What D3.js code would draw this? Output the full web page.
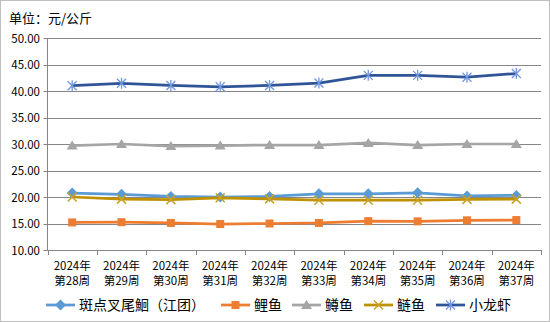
<!DOCTYPE html>
<html><head><meta charset="utf-8">
<script src="https://cdn.jsdelivr.net/npm/d3@7/dist/d3.min.js"></script>
<style>body{margin:0;background:#fff}svg{display:block}text{font-family:"Noto Sans CJK SC","DejaVu Sans",sans-serif}</style>
</head><body><svg id="c" width="550" height="322"></svg>
<script>
const categories = ["2024年\n第28周","2024年\n第29周","2024年\n第30周","2024年\n第31周","2024年\n第32周","2024年\n第33周","2024年\n第34周","2024年\n第35周","2024年\n第36周","2024年\n第37周"];
const seriesNames = ["斑点叉尾鮰（江团）","鲤鱼","鳟鱼","鲢鱼","小龙虾"];
const catfish = [20.75,20.5,20.1,20.0,20.1,20.6,20.6,20.8,20.2,20.3];
const carp = [15.2,15.25,15.1,14.9,15.0,15.1,15.45,15.4,15.6,15.65];
const trout = [29.7,30.0,29.6,29.7,29.8,29.8,30.2,29.8,30.0,30.0];
const silverCarp = [20.0,19.6,19.5,19.85,19.65,19.4,19.4,19.4,19.55,19.6];
const crayfish = [41.0,41.45,41.05,40.8,41.05,41.5,42.95,42.95,42.6,43.3];
const yTicks = [10,15,20,25,30,35,40,45,50];
const colors = ["#5B9BD5","#ED7D31","#A5A5A5","#BF9000","#2F5597"];
const markerColors = ["#5B9BD5","#ED7D31","#A5A5A5","#C9A227","#6F97E0"];
const markers = ["diamond","square","triangle","x","star"];
const allData = [catfish,carp,trout,silverCarp,crayfish];

const svg = d3.select("#c");
svg.append("rect").attr("x",0.5).attr("y",0.5).attr("width",549).attr("height",321).attr("fill","#fff").attr("stroke","#BFBFBF");
const L=47.5,R=541,T=38,B=250;
const x = d3.scaleBand().domain(d3.range(categories.length)).range([L,R]);
const y = d3.scaleLinear().domain([10,50]).range([B,T]);

svg.append("text").attr("x",9).attr("y",23).attr("font-size",13).attr("fill","#000").text("单位：元/公斤");

// grid
svg.append("g").selectAll("line").data(yTicks).join("line")
 .attr("x1",L-4).attr("x2",R).attr("y1",d=>Math.round(y(d))+0.5).attr("y2",d=>Math.round(y(d))+0.5)
 .attr("stroke","#868686").attr("stroke-width",1);
svg.append("g").selectAll("text").data(yTicks).join("text")
 .attr("x",40).attr("y",d=>y(d)+4.5).attr("text-anchor","end").attr("font-size",11.5).attr("fill","#000")
 .text(d=>d.toFixed(2));
// axes
svg.append("line").attr("x1",L).attr("x2",L).attr("y1",T).attr("y2",B).attr("stroke","#868686");
const bounds = d3.range(categories.length+1).map(i=>L+i*x.bandwidth());
svg.append("g").selectAll("line").data(bounds).join("line")
 .attr("x1",d=>Math.round(d)+0.5).attr("x2",d=>Math.round(d)+0.5).attr("y1",B).attr("y2",B+5).attr("stroke","#868686");
const xg = svg.append("g");
categories.forEach((d,i)=>{
  d.split("\n").forEach((p,j)=>xg.append("text").attr("text-anchor","middle").attr("font-size",11.5).attr("fill","#000")
    .attr("x",x(i)+x.bandwidth()/2).attr("y",270+j*15).text(p));
});

function drawMarker(g,type,cx,cy,col){
  if(type==="diamond") g.append("path").attr("d",`M${cx},${cy-5.5}L${cx+5.5},${cy}L${cx},${cy+5.5}L${cx-5.5},${cy}Z`).attr("fill",col);
  else if(type==="square") g.append("rect").attr("x",cx-4).attr("y",cy-4).attr("width",8).attr("height",8).attr("fill",col);
  else if(type==="triangle") g.append("path").attr("d",`M${cx},${cy-5}L${cx+5.5},${cy+4}L${cx-5.5},${cy+4}Z`).attr("fill",col);
  else if(type==="x") g.append("path").attr("d",`M${cx-4.5},${cy-4.5}L${cx+4.5},${cy+4.5}M${cx-4.5},${cy+4.5}L${cx+4.5},${cy-4.5}`).attr("stroke",col).attr("stroke-width",1.5);
  else g.append("path").attr("d",`M${cx-4.5},${cy-4.5}L${cx+4.5},${cy+4.5}M${cx-4.5},${cy+4.5}L${cx+4.5},${cy-4.5}M${cx},${cy-5.5}L${cx},${cy+5.5}`).attr("stroke",col).attr("stroke-width",1.3);
}
const line = d3.line().x((d,i)=>x(i)+x.bandwidth()/2).y(d=>y(d));
allData.forEach((data,k)=>{
  const g=svg.append("g");
  g.append("path").datum(data).attr("d",line).attr("fill","none").attr("stroke",colors[k]).attr("stroke-width",2.75).attr("stroke-linejoin","round");
  data.forEach((v,i)=>drawMarker(g,markers[k],x(i)+x.bandwidth()/2,y(v),markerColors[k]));
});
// legend
const legX=[46,221,292,364,436];
seriesNames.forEach((n,k)=>{
  const g=svg.append("g"); const ly=305;
  g.append("line").attr("x1",legX[k]).attr("x2",legX[k]+29).attr("y1",ly).attr("y2",ly).attr("stroke",colors[k]).attr("stroke-width",2.75);
  drawMarker(g,markers[k],legX[k]+14.5,ly,markerColors[k]);
  g.append("text").attr("x",legX[k]+33).attr("y",ly+5).attr("font-size",14).attr("fill","#000").text(n);
});
</script></body></html>
